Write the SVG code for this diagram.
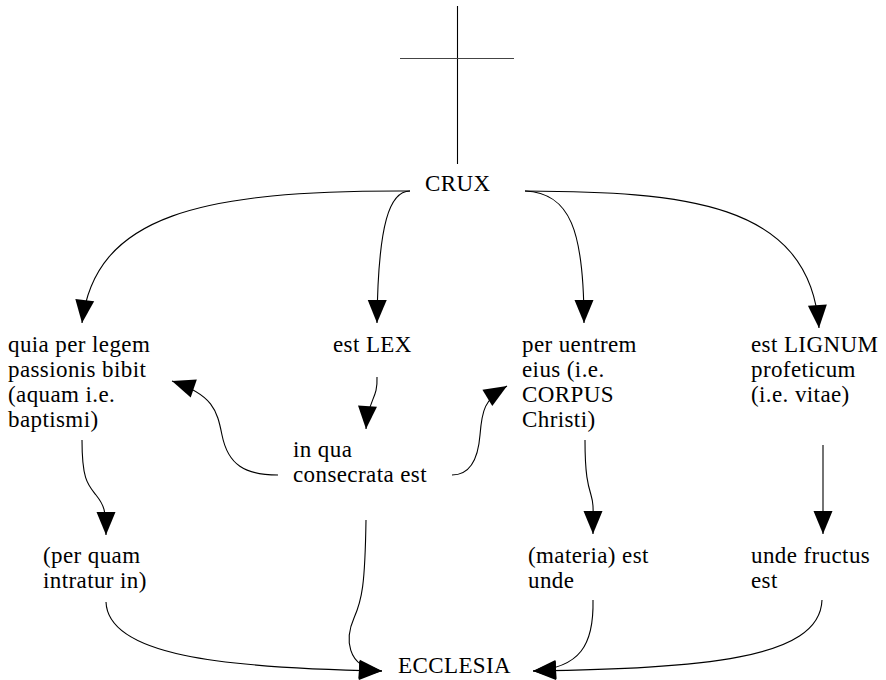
<svg xmlns="http://www.w3.org/2000/svg" width="886" height="680" viewBox="0 0 886 680">
<style>
text{font-family:"Liberation Serif","Times New Roman",serif;font-size:23px;letter-spacing:0.4px;fill:#000}
.c{fill:none;stroke:#000;stroke-width:1.1}
</style>
<defs>
<marker id="ah" markerUnits="userSpaceOnUse" markerWidth="24" markerHeight="20" viewBox="0 0 24 20" refX="23" refY="9.5" orient="auto" overflow="visible">
<path d="M0,0 L23,9.5 L0,19 z" fill="#000"/>
</marker>
</defs>
<rect width="886" height="680" fill="#fff"/>
<g id="cross">
<line x1="457.5" y1="6" x2="457.5" y2="164" stroke="#000" stroke-width="1.1"/>
<line x1="400" y1="58.5" x2="514" y2="58.5" stroke="#444" stroke-width="1.1"/>
</g>
<g id="connectors">
<path class="c" marker-end="url(#ah)" d="M410,191 C200,190 95,215 82,323"/>
<path class="c" marker-end="url(#ah)" d="M410,191 C390,191 378,222 377,323"/>
<path class="c" marker-end="url(#ah)" d="M525,191 C570,193 584,230 584,323"/>
<path class="c" marker-end="url(#ah)" d="M525,191 C680,192 810,200 819,328"/>
<path class="c" marker-end="url(#ah)" d="M377,377 C378,400 368,398 366,429"/>
<path class="c" marker-end="url(#ah)" d="M278,475 C245,475 228,465 222,435 C217,410 213,395 172,381"/>
<path class="c" marker-end="url(#ah)" d="M452,475 C470,475 478,460 480,435 C482,410 484,400 507,386"/>
<path class="c" marker-end="url(#ah)" d="M82,440 C82,480 88,485 96,495 C104,505 106,510 106,535"/>
<path class="c" marker-end="url(#ah)" d="M106,602 C108,655 220,668 382,671"/>
<path class="c" marker-end="url(#ah)" d="M366,520 C365,585 362,600 354,618 C346,636 344,668 382,671"/>
<path class="c" marker-end="url(#ah)" d="M585,440 C585,475 588,485 591,495 C594,505 593,510 593,534"/>
<path class="c" marker-end="url(#ah)" d="M593,600 C594,645 580,668 533,671"/>
<path class="c" marker-end="url(#ah)" d="M823,445 L823,534"/>
<path class="c" marker-end="url(#ah)" d="M822,600 C820,660 700,668 533,671"/>
</g>
<g id="crux"><text x="425" y="191">CRUX</text></g>
<g id="quia"><text x="8" y="352">quia per legem</text><text x="8" y="377">passionis bibit</text><text x="8" y="402">(aquam i.e.</text><text x="8" y="427">baptismi)</text></g>
<g id="lex"><text x="333" y="352">est LEX</text></g>
<g id="uentrem"><text x="522" y="352">per uentrem</text><text x="522" y="377">eius (i.e.</text><text x="522" y="402">CORPUS</text><text x="522" y="427">Christi)</text></g>
<g id="lignum"><text x="751" y="352">est LIGNUM</text><text x="751" y="377">profeticum</text><text x="751" y="402">(i.e. vitae)</text></g>
<g id="inqua"><text x="293" y="457">in qua</text><text x="293" y="482">consecrata est</text></g>
<g id="perquam"><text x="43" y="563">(per quam</text><text x="43" y="588">intratur in)</text></g>
<g id="materia"><text x="528" y="563">(materia) est</text><text x="528" y="588">unde</text></g>
<g id="fructus"><text x="751" y="563">unde fructus</text><text x="751" y="588">est</text></g>
<g id="ecclesia"><text x="398" y="673">ECCLESIA</text></g>
</svg>
